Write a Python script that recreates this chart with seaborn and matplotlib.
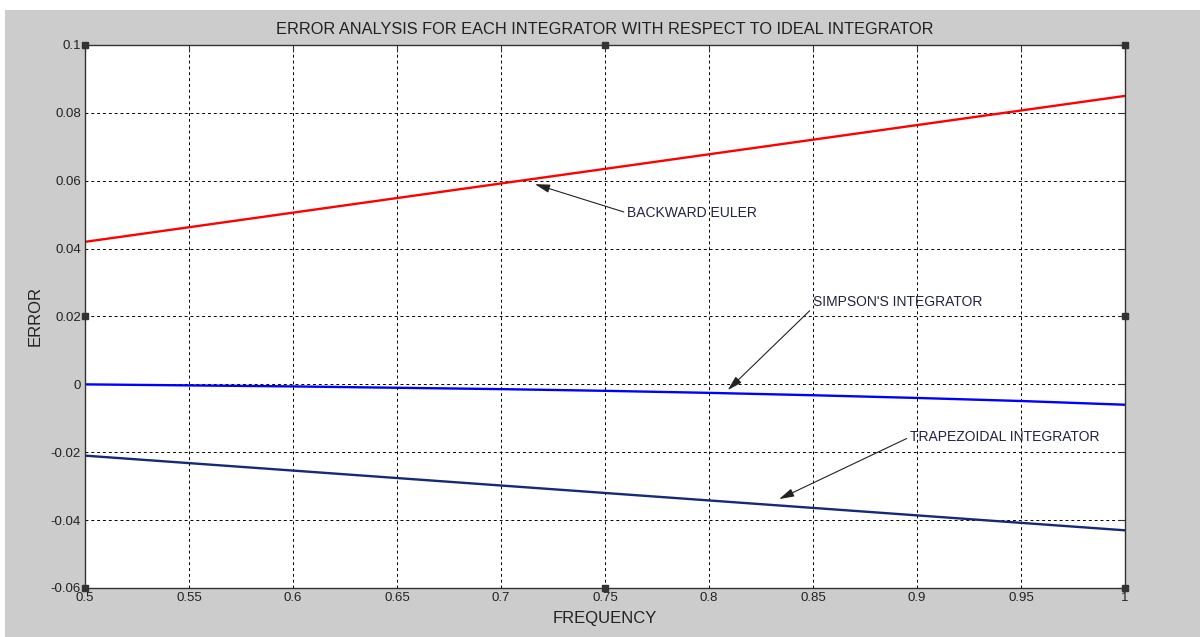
import numpy as np
import pandas as pd
import matplotlib
matplotlib.use("Agg")
import matplotlib.pyplot as plt
import seaborn as sns
from matplotlib.patches import Rectangle

frequency = [0.5, 0.55, 0.6, 0.65, 0.7, 0.75, 0.8, 0.85, 0.9, 0.95, 1.0]
backward_euler = [0.042, 0.0463, 0.0506, 0.0549, 0.0592, 0.0635, 0.0678, 0.0721, 0.0764, 0.0807, 0.085]
simpson = [0.0, -0.0003, -0.0006, -0.0010, -0.0014, -0.0019, -0.0025, -0.0032, -0.0040, -0.0049, -0.006]
trapezoidal = [-0.021, -0.0232, -0.0254, -0.0276, -0.0298, -0.0320, -0.0342, -0.0364, -0.0386, -0.0408, -0.043]

x_ticks = [0.5, 0.55, 0.6, 0.65, 0.7, 0.75, 0.8, 0.85, 0.9, 0.95, 1]
x_ticklabels = ["0.5", "0.55", "0.6", "0.65", "0.7", "0.75", "0.8", "0.85", "0.9", "0.95", "1"]
y_ticks = [-0.06, -0.04, -0.02, 0, 0.02, 0.04, 0.06, 0.08, 0.1]
y_ticklabels = ["-0.06", "-0.04", "-0.02", "0", "0.02", "0.04", "0.06", "0.08", "0.1"]

sns.set_style("white")
plt.rcParams['font.family'] = ['Liberation Sans', 'DejaVu Sans']

fig = plt.figure(figsize=(12, 6.37), dpi=100)
fig.patch.set_facecolor("white")
fig.patches.append(Rectangle((5/1200, 0), 1 - 5/1200, (637 - 10)/637, transform=fig.transFigure,
                             facecolor="#cccccc", edgecolor="none", zorder=-10))

ax = fig.add_axes([85/1200, (637 - 588)/637, (1125 - 85)/1200, (588 - 45)/637])
ax.set_facecolor("white")

df = pd.DataFrame({"f": frequency, "be": backward_euler, "si": simpson, "tr": trapezoidal})
sns.lineplot(data=df, x="f", y="be", ax=ax, color="#ff0000", lw=1.7)
sns.lineplot(data=df, x="f", y="si", ax=ax, color="#0000ff", lw=1.7)
sns.lineplot(data=df, x="f", y="tr", ax=ax, color="#142a78", lw=1.7)

ax.set_xlim(0.5, 1)
ax.set_ylim(-0.06, 0.1)
ax.set_xticks(x_ticks)
ax.set_xticklabels(x_ticklabels)
ax.set_yticks(y_ticks)
ax.set_yticklabels(y_ticklabels)
ax.tick_params(direction="in", length=5, width=0.8, color="#333333", labelsize=9.5,
               labelcolor="#222222", top=True, right=True, pad=3)
ax.tick_params(axis="x", pad=3)
ax.grid(True, color="black", linestyle=(0, (3, 3)), lw=0.7)
for s in ax.spines.values():
    s.set_color("#333333")
    s.set_linewidth(1.0)

ax.set_title("ERROR ANALYSIS FOR EACH INTEGRATOR WITH RESPECT TO IDEAL INTEGRATOR",
             fontsize=11.8, color="#222222", pad=8)
ax.set_xlabel("FREQUENCY", fontsize=12, color="#222222", labelpad=5)
ax.set_ylabel("ERROR", fontsize=12, color="#222222", labelpad=6)

def arrow(relpos):
    return dict(arrowstyle="-|>,head_length=0.9,head_width=0.25", color="#222222", lw=0.8,
                shrinkA=0, shrinkB=0, relpos=relpos)

ax.annotate("BACKWARD EULER", xy=(0.7163, 0.059), xytext=(0.7606, 0.0505),
            fontsize=10, color="#222244", va="center", ha="left", arrowprops=arrow((0, 0.5)))
ax.annotate("SIMPSON'S INTEGRATOR", xy=(0.809, -0.0017), xytext=(0.85, 0.0243),
            fontsize=10, color="#222244", va="center", ha="left", arrowprops=arrow((0, 0.1)))
ax.annotate("TRAPEZOIDAL INTEGRATOR", xy=(0.8337, -0.0338), xytext=(0.8966, -0.0155),
            fontsize=10, color="#222244", va="center", ha="left", arrowprops=arrow((0, 0.5)))

# MATLAB-style selection handles
hx = [0, 0.5, 1, 0, 1, 0, 0.5, 1]
hy = [1, 1, 1, 0.5, 0.5, 0, 0, 0]
ax.plot(hx, hy, "s", ms=5, color="#333333", transform=ax.transAxes, clip_on=False, zorder=5)

fig.savefig("out.png", dpi=100)
